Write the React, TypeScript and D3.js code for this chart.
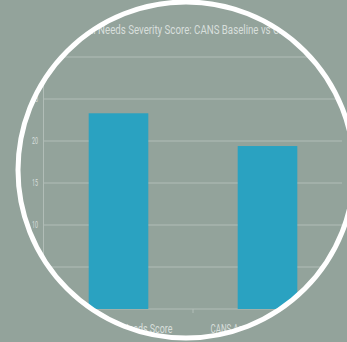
import React from "react";
import * as d3 from "d3";

const categories = ["Baseline Total Needs Score", "CANS Assessment Needs Score"];
const values = [23.3, 19.4];
const yTicks = [0, 5, 10, 15, 20, 25, 30];
const title = "Total Needs Severity Score: CANS Baseline vs CANS Discharge";

const W = 347, H = 342;
const BG = "#93a39b";
const BAR = "#2aa2c1";
const TXT = "#d8dfdb";
const GRID = "#b1bdb7";
const FONT = "Roboto, 'Noto Sans', sans-serif";

export default function App() {
  const x = d3.scaleBand<string>().domain(categories).range([44, 342]).paddingInner(0.6).paddingOuter(0.3);
  const band = d3.scaleBand<string>().domain(categories).range([44, 342]);
  const y = d3.scaleLinear().domain([0, 30]).range([309, 57]);
  const cx = 186, cy = 170, r = 168;
  const labelLen = [108, 114];
  return (
    <svg width={W} height={H} style={{ position: "fixed", left: 0, top: 0, background: BG }}>
      <defs>
        <clipPath id="circ"><circle cx={cx} cy={cy} r={r} /></clipPath>
      </defs>
      <rect width={W} height={H} fill={BG} />
      <g clipPath="url(#circ)" fontFamily={FONT}>
        <text x={74} y={34} fill={TXT} fontSize={12.5} textLength={270} lengthAdjust="spacingAndGlyphs">{title}</text>
        {yTicks.map((t) => (
          <g key={t}>
            <line x1={43} x2={342} y1={y(t)} y2={y(t)} stroke={GRID} strokeWidth={1} />
            {t > 0 && (
              <text x={38} y={y(t) + 3} textAnchor="end" fill={TXT} fontSize={9} textLength={6} lengthAdjust="spacingAndGlyphs">{t}</text>
            )}
          </g>
        ))}
        <line x1={43.5} x2={43.5} y1={y(30)} y2={y(0)} stroke={GRID} strokeWidth={1} />
        <line x1={band(categories[1])} x2={band(categories[1])} y1={y(0)} y2={y(0) + 4} stroke={GRID} />
        {categories.map((c, i) => (
          <rect key={c} x={x(c)} width={x.bandwidth()} y={y(values[i])} height={y(0) - y(values[i])} fill={BAR} />
        ))}
        {categories.map((c, i) => (
          <text key={c} x={(band(c) ?? 0) + band.bandwidth() / 2} y={333} textAnchor="middle" fill={TXT} fontSize={12} textLength={labelLen[i]} lengthAdjust="spacingAndGlyphs">{c}</text>
        ))}
      </g>
      <circle cx={cx} cy={cy} r={r} fill="none" stroke="#ffffff" strokeWidth={5} />
    </svg>
  );
}
